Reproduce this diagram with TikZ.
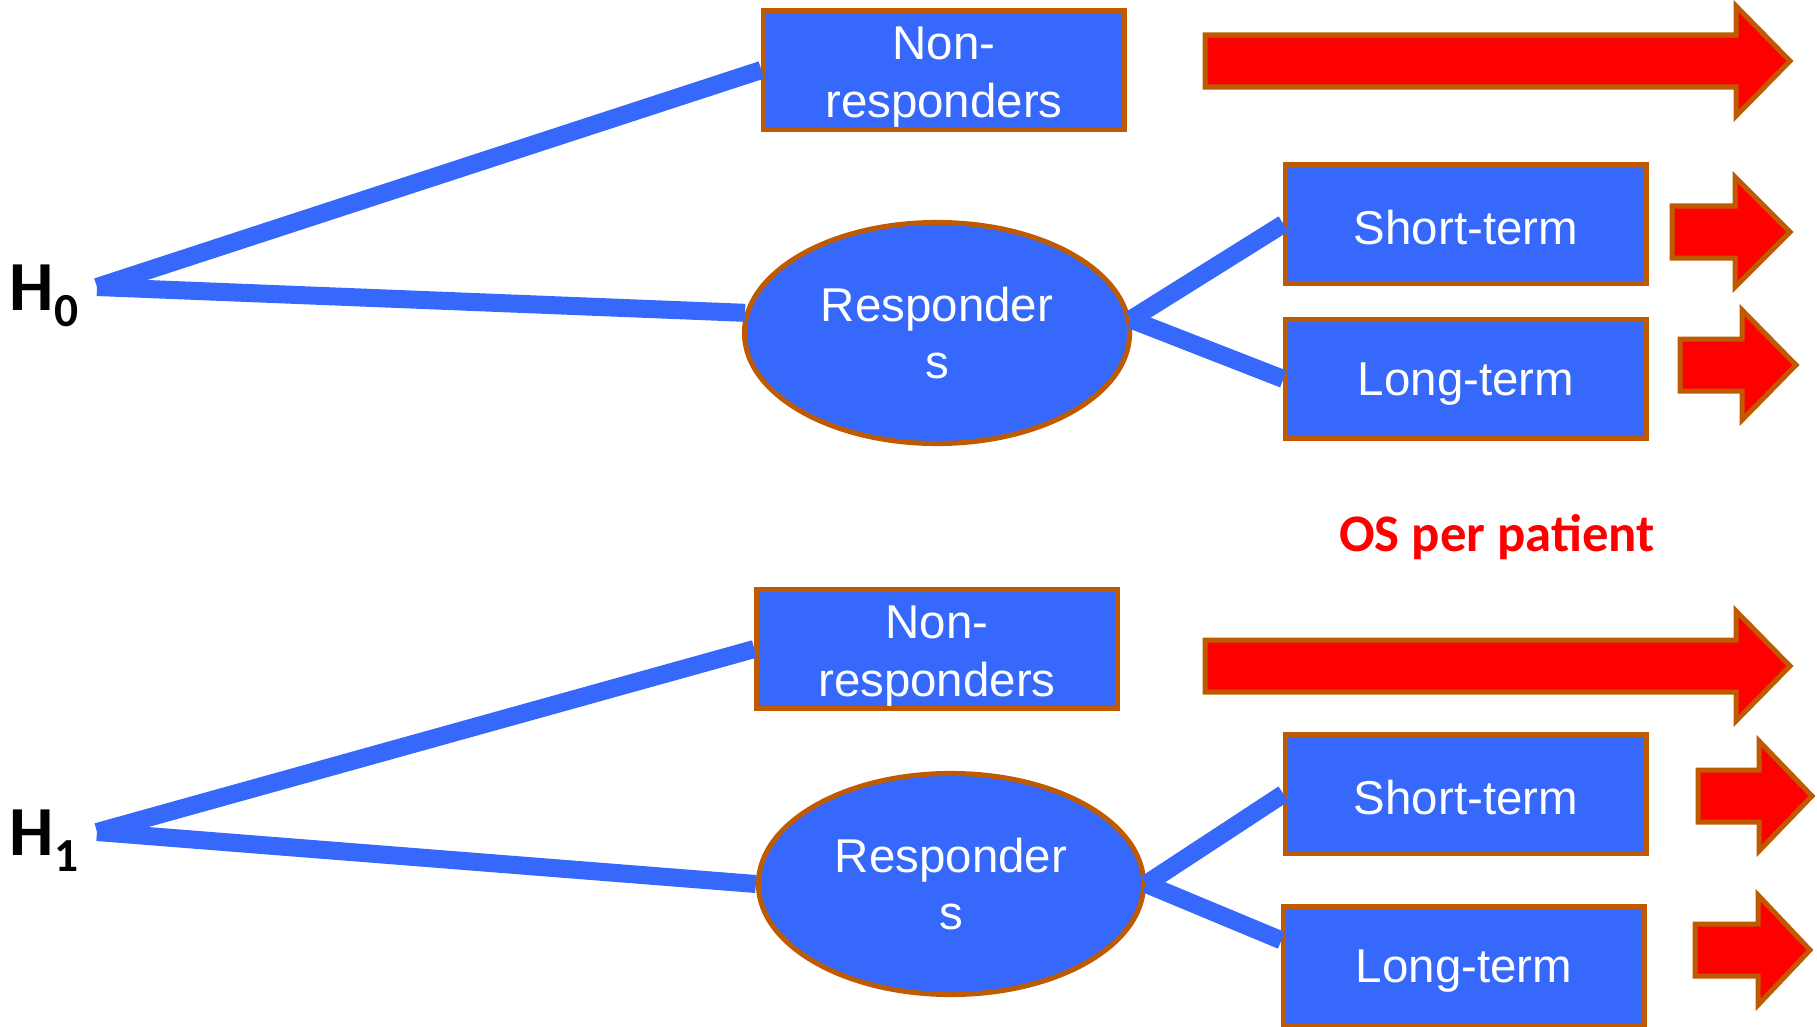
\documentclass[tikz,border=0pt]{standalone}
\usepackage{fontspec}
\setmainfont{Liberation Sans}
\newfontfamily\carlito{Carlito}
\usetikzlibrary{shapes.geometric}
\definecolor{stageblue}{RGB}{54,104,252}
\definecolor{stageedge}{RGB}{192,90,0}
\definecolor{osred}{RGB}{255,0,0}
\newcommand{\nrstrut}{\rule{0pt}{13.5pt}}
\tikzset{
  stagebox/.style={draw=stageedge,fill=stageblue,line width=0.5mm,text=white,
    minimum width=3.6cm,minimum height=1.18cm,inner sep=0pt,align=center,
    font=\fontsize{13.5}{16.4}\selectfont,execute at begin node={\rule{0pt}{12pt}}},
  respnode/.style={stagebox,ellipse,minimum width=3.85cm,minimum height=2.21cm,
    execute at begin node={}},
  link/.style={draw=stageblue,line width=1.8mm},
  osarrow/.style={draw=stageedge,fill=osred,line width=0.5mm},
  hyplabel/.style={anchor=base west,inner sep=0pt,font=\carlito\bfseries\fontsize{20}{20}\selectfont},
}
\begin{document}
\begin{tikzpicture}[x=0.01cm,y=-0.01cm]
\useasboundingbox (0,0) rectangle (1817,1027);
\pgfmathsetmacro{\kshaft}{26}
\pgfmathsetmacro{\khead}{55}
% hypotheses
\node[hyplabel] (h0) at (9,310) {H\raisebox{-4.8pt}{\fontsize{13.5}{14}\selectfont 0}};
\node[hyplabel] (h1) at (9,855) {H\raisebox{-4.8pt}{\fontsize{13.5}{14}\selectfont 1}};
\coordinate (v0) at (97,287);
\coordinate (v1) at (97,832);
% H0 tree
\node[stagebox,execute at begin node={}] (nr0) at (944,70) {\nrstrut Non-\\responders};
\node[respnode] (resp0) at (937,333) {Responder\\s};
\node[stagebox] (st0) at (1466,224) {Short-term};
\node[stagebox] (lt0) at (1466,379) {Long-term};
% H1 tree
\node[stagebox,execute at begin node={}] (nr1) at (937,649) {\nrstrut Non-\\responders};
\node[respnode] (resp1) at (951,884) {Responder\\s};
\node[stagebox] (st1) at (1466,794) {Short-term};
\node[stagebox] (lt1) at (1464,966) {Long-term};
\node[text=osred,font=\carlito\bfseries\fontsize{15}{15}\selectfont] (os) at (1497,537) {OS per patient};
% branches
\draw[link] (v0) -- (nr0.west);
\draw[link] (v0) -- (resp0.174);
\draw[link] (resp0.4) -- (st0.west);
\draw[link] (resp0.4) -- (lt0.west);
\draw[link] (v1) -- (nr1.west);
\draw[link] (v1) -- (resp1.west);
\draw[link] (resp1.east) -- (st1.west);
\draw[link] (resp1.east) -- (lt1.172);
% OS arrows
\foreach \xl/\xb/\xt/\yc in {1205/1736/1790/61,1672/1735/1790/232,1680/1742/1796/365,1205/1736/1790/666,1698/1759/1812/796,1695/1758/1810/950}{
\draw[osarrow](\xl,\yc-\kshaft)--(\xb,\yc-\kshaft)--(\xb,\yc-\khead)--(\xt,\yc)--(\xb,\yc+\khead)--(\xb,\yc+\kshaft)--(\xl,\yc+\kshaft)--cycle;}
\end{tikzpicture}
\end{document}
